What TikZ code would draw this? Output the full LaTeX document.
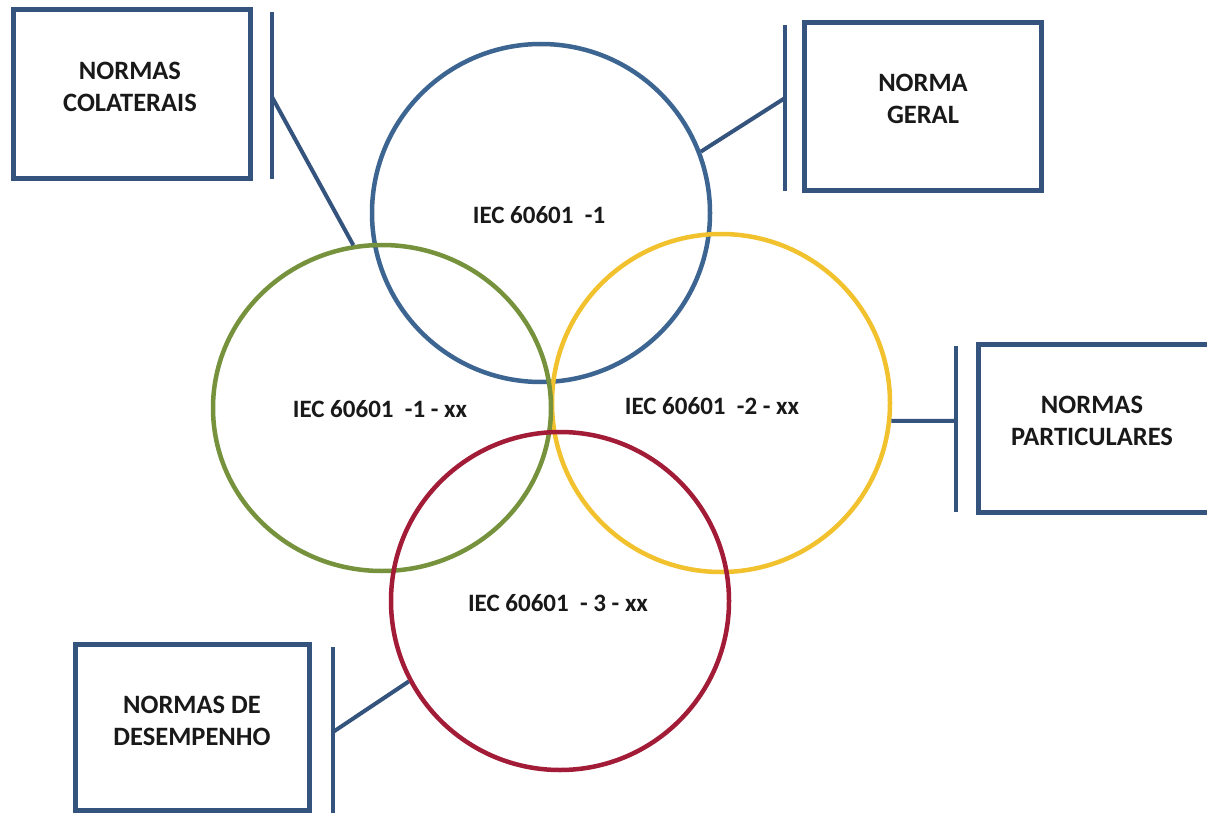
\documentclass[tikz,border=0pt]{standalone}
\usepackage{fontspec}
\setmainfont{Carlito}
\usetikzlibrary{shapes.geometric}
\definecolor{boxblue}{HTML}{34547E}
\definecolor{cblue}{HTML}{3D6592}
\definecolor{cgreen}{HTML}{76923C}
\definecolor{cyellow}{HTML}{F2C12E}
\definecolor{cred}{HTML}{A31C37}
\tikzset{
  normbox/.style={draw=boxblue, line width=5pt, rectangle, inner sep=0pt},
  ring/.style={circle, line width=4.5pt, minimum size=338pt, inner sep=0pt},
  lbl/.style={font=\bfseries\fontsize{25}{31}\selectfont, align=center, inner sep=0pt, text=black!90},
  boxlbl/.style={font=\bfseries\fontsize{26.5}{32}\selectfont, align=center, inner sep=0pt, text=black!90},
  bar/.style={draw=boxblue, line width=4.5pt},
  conn/.style={draw=boxblue, line width=4pt}
}
\begin{document}
\begin{tikzpicture}[x=1pt, y={(0pt,-1pt)}]
\useasboundingbox[fill=white] (0,0) rectangle (1207,813);

% circles
\node[ring, draw=cblue] (blue) at (541,213) {};
\node[ring, draw=cyellow] (yellow) at (721,403) {};
\node[ellipse, line width=4.5pt, draw=cgreen, minimum width=338pt, minimum height=326pt, inner sep=0pt] (green) at (382,408) {};
\node[ring, draw=cred] (red) at (560,601) {};

% circle labels
\node[lbl] (t1) at (539,215) {IEC 60601\ \ -1};
\node[lbl] (t2) at (380,409) {IEC 60601\ \ -1 - xx};
\node[lbl] (t3) at (712,406) {IEC 60601\ \ -2 - xx};
\node[lbl] (t4) at (558,603) {IEC 60601\ \ - 3 - xx};

% boxes
\node[normbox, minimum width=237pt, minimum height=169pt] (colbox) at (131.5,94.5) {};
\node[normbox, minimum width=237pt, minimum height=168pt] (gerbox) at (922.5,107) {};
\node[normbox, minimum width=233pt, minimum height=168pt, anchor=west] (parbox) at (976,428) {};
\node[normbox, minimum width=234pt, minimum height=166pt] (desbox) at (192,727) {};

\node[boxlbl] (coltxt) at (130,87) {NORMAS\\COLATERAIS};
\node[boxlbl] (gertxt) at (923,99) {NORMA\\GERAL};
\node[boxlbl] (partxt) at (1092,421) {NORMAS\\PARTICULARES};
\node[boxlbl] (destxt) at (192,721) {NORMAS DE\\DESEMPENHO};

% bars
\coordinate (colT) at (272,12);  \coordinate (colB) at (272,179); \coordinate (colM) at (272,97);
\coordinate (gerT) at (785,25);  \coordinate (gerB) at (785,191); \coordinate (gerM) at (785,98);
\coordinate (parT) at (956,346); \coordinate (parB) at (956,512); \coordinate (parM) at (956,421);
\coordinate (desT) at (333,647); \coordinate (desB) at (333,813); \coordinate (desM) at (333,732);

\draw[bar] (colT) -- (colB);
\draw[bar] (gerT) -- (gerB);
\draw[bar] (parT) -- (parB);
\draw[bar] (desT) -- (desB);

% connectors
\draw[conn] (colM) -- (green.100);
\draw[conn] (gerM) -- (blue.21);
\draw[conn] (parM) -- (yellow.-6);
\draw[conn] (desM) -- (red.208);
\end{tikzpicture}
\end{document}
